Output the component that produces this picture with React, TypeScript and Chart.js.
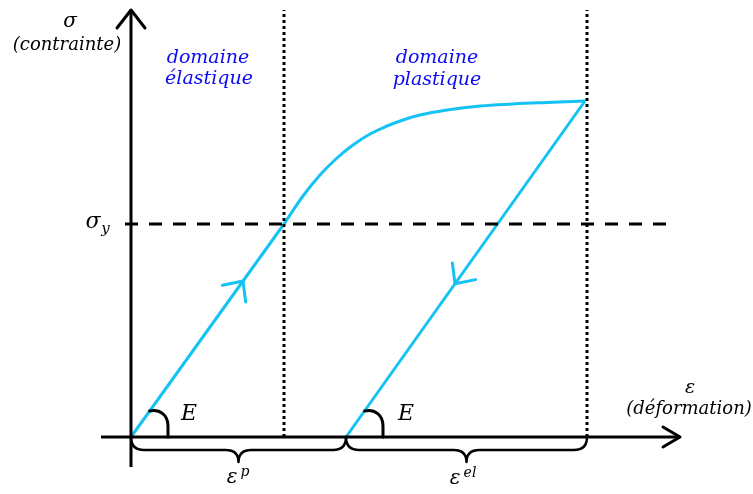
import React, { useEffect, useRef } from 'react';
import { Chart, registerables } from 'chart.js';

Chart.register(...registerables);

// strain (ε) / stress (σ) in arbitrary units
const elasticEps = [0, 1.53];
const elasticSig = [0, 2.13];
const plasticEps = [1.53, 1.72, 1.89, 2.06, 2.22, 2.39, 2.56, 2.72, 2.89, 3.16, 3.49, 3.82, 4.16, 4.54];
const plasticSig = [2.13, 2.41, 2.62, 2.79, 2.92, 3.03, 3.11, 3.17, 3.22, 3.27, 3.31, 3.33, 3.345, 3.36];
const unloadEps = [4.54, 2.15];
const unloadSig = [3.36, 0];

const sigmaY = 2.13;
const yieldEps = 1.53;
const maxEps = 4.56;
const residualEps = 2.15;

const CYAN = '#14C3F3';
const BLUE = '#0A0AF5';
const SERIF = '"DejaVu Serif", serif';

const pts = (xs: number[], ys: number[]) => xs.map((v, i) => ({ x: v, y: ys[i] }));

const drawExtras = {
  id: 'drawExtras',
  afterDatasetsDraw(chart: any) {
    const { ctx, scales } = chart;
    const px = (v: number) => scales.x.getPixelForValue(v);
    const py = (v: number) => scales.y.getPixelForValue(v);
    ctx.save();
    ctx.lineCap = 'round';
    ctx.lineJoin = 'round';

    // axis arrow heads
    ctx.strokeStyle = '#000';
    ctx.lineWidth = 3;
    const xt = px(5.49), yt = py(0);
    ctx.beginPath();
    ctx.moveTo(xt - 17, yt - 10);
    ctx.lineTo(xt, yt);
    ctx.lineTo(xt - 17, yt + 10);
    ctx.stroke();
    const xt2 = px(0), yt2 = py(4.27);
    ctx.beginPath();
    ctx.moveTo(xt2 - 14, yt2 + 18);
    ctx.lineTo(xt2, yt2);
    ctx.lineTo(xt2 + 14, yt2 + 18);
    ctx.stroke();

    // direction chevrons on the cyan path
    const chevron = (e: number, s: number, dirAng: number) => {
      const tx = px(e), ty = py(s);
      const back = dirAng + Math.PI;
      ctx.beginPath();
      ctx.moveTo(tx + 21 * Math.cos(back - 0.75), ty + 21 * Math.sin(back - 0.75));
      ctx.lineTo(tx, ty);
      ctx.lineTo(tx + 21 * Math.cos(back + 0.75), ty + 21 * Math.sin(back + 0.75));
      ctx.stroke();
    };
    ctx.strokeStyle = CYAN;
    ctx.lineWidth = 3;
    const upAng = Math.atan2(py(elasticSig[1]) - py(0), px(elasticEps[1]) - px(0));
    chevron(1.12, (1.12 * elasticSig[1]) / elasticEps[1], upAng);
    const slopeU = (unloadSig[0] - unloadSig[1]) / (unloadEps[0] - unloadEps[1]);
    chevron(3.24, (3.24 - residualEps) * slopeU, upAng + Math.PI);

    // modulus angle arcs
    ctx.strokeStyle = '#000';
    ctx.lineWidth = 3;
    [0, residualEps].forEach((e) => {
      const cx = px(e), cy = py(0);
      ctx.beginPath();
      ctx.moveTo(cx + 32 * Math.cos(upAng), cy + 32 * Math.sin(upAng));
      ctx.bezierCurveTo(cx + 29, cy - 28, cx + 37, cy - 22, cx + 37, cy - 11);
      ctx.lineTo(cx + 37, cy);
      ctx.stroke();
    });

    // braces under the strain axis
    ctx.lineWidth = 2.5;
    const brace = (e1: number, e2: number) => {
      const x1 = px(e1), x2 = px(e2), xm = (x1 + x2) / 2, y0 = py(0);
      const h = 13, r = 13, t = 12;
      ctx.beginPath();
      ctx.moveTo(x1, y0);
      ctx.quadraticCurveTo(x1, y0 + h, x1 + r, y0 + h);
      ctx.lineTo(xm - r, y0 + h);
      ctx.quadraticCurveTo(xm, y0 + h, xm, y0 + h + t);
      ctx.quadraticCurveTo(xm, y0 + h, xm + r, y0 + h);
      ctx.lineTo(x2 - r, y0 + h);
      ctx.quadraticCurveTo(x2, y0 + h, x2, y0);
      ctx.stroke();
    };
    brace(0, residualEps);
    brace(residualEps, maxEps);

    // texts
    ctx.textAlign = 'center';
    ctx.textBaseline = 'middle';
    const text = (s: string, e: number, sg: number, size: number, color = '#000') => {
      ctx.fillStyle = color;
      ctx.font = `italic ${size}px ${SERIF}`;
      ctx.fillText(s, px(e), py(sg));
    };
    text('σ', -0.61, 4.15, 20);
    text('(contrainte)', -0.64, 3.92, 18);
    text('ε', 5.59, 0.49, 19);
    text('(déformation)', 5.58, 0.28, 18);
    text('domaine', 0.77, 3.79, 19, BLUE);
    text('élastique', 0.78, 3.58, 19, BLUE);
    text('domaine', 3.06, 3.79, 19, BLUE);
    text('plastique', 3.06, 3.57, 19, BLUE);
    text('σ', -0.38, 2.15, 22);
    text('y', -0.255, 2.08, 15);
    text('E', 0.58, 0.23, 22);
    text('E', 2.75, 0.23, 22);
    text('ε', 1.01, -0.41, 20);
    text('p', 1.14, -0.35, 14);
    text('ε', 3.24, -0.42, 20);
    text('el', 3.39, -0.36, 14);
    ctx.restore();
  },
};

const App: React.FC = () => {
  const canvasRef = useRef<HTMLCanvasElement>(null);

  useEffect(() => {
    document.body.style.margin = '0';
    if (!canvasRef.current) return;
    const black = { borderColor: '#000', borderWidth: 3, pointRadius: 0, fill: false };
    const chart = new Chart(canvasRef.current, {
      type: 'line',
      data: {
        datasets: [
          { ...black, data: [{ x: -0.3, y: 0 }, { x: 5.49, y: 0 }] },
          { ...black, data: [{ x: 0, y: -0.3 }, { x: 0, y: 4.27 }] },
          {
            ...black,
            borderDash: [13, 11],
            borderCapStyle: 'butt',
            data: [{ x: -0.06, y: sigmaY }, { x: 5.44, y: sigmaY }],
          },
          {
            ...black,
            borderDash: [3, 3],
            borderCapStyle: 'butt',
            data: [{ x: yieldEps, y: 0 }, { x: yieldEps, y: 4.27 }],
          },
          {
            ...black,
            borderDash: [3, 3],
            borderCapStyle: 'butt',
            data: [{ x: maxEps, y: 0 }, { x: maxEps, y: 4.27 }],
          },
          { data: pts(elasticEps, elasticSig), borderColor: CYAN, borderWidth: 3, pointRadius: 0 },
          {
            data: pts(plasticEps, plasticSig),
            borderColor: CYAN,
            borderWidth: 3,
            pointRadius: 0,
            tension: 0.4,
          },
          { data: pts(unloadEps, unloadSig), borderColor: CYAN, borderWidth: 3, pointRadius: 0 },
        ] as any,
      },
      options: {
        animation: false,
        responsive: true,
        maintainAspectRatio: false,
        layout: { padding: 0 },
        plugins: { legend: { display: false }, tooltip: { enabled: false } },
        scales: {
          x: { type: 'linear', min: -1.31, max: 6.22, display: false },
          y: { type: 'linear', min: -0.57, max: 4.37, display: false },
        },
      },
      plugins: [drawExtras],
    });
    return () => chart.destroy();
  }, []);

  return (
    <div style={{ width: 753, height: 494, position: 'relative', background: '#fff' }}>
      <canvas ref={canvasRef} />
    </div>
  );
};

export default App;
